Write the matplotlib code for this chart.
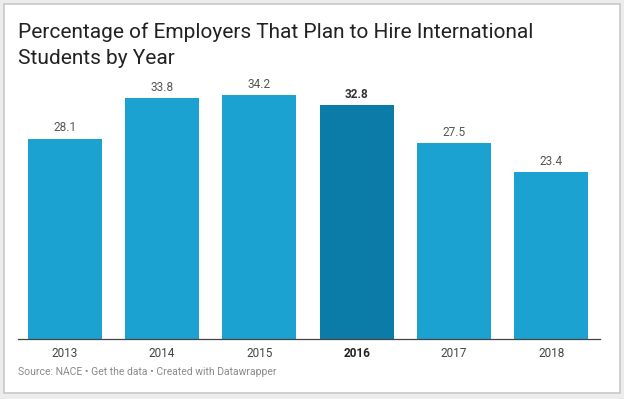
import matplotlib.pyplot as plt
from matplotlib.patches import Rectangle

plt.rcParams['font.family'] = ['Roboto', 'DejaVu Sans']

years = ["2013", "2014", "2015", "2016", "2017", "2018"]
values = [28.1, 33.8, 34.2, 32.8, 27.5, 23.4]
highlight = "2016"

light = "#1ba2d1"
dark = "#0b7ca7"

fig = plt.figure(figsize=(6.24, 3.99), dpi=100)
fig.patch.set_facecolor("#ececec")

# white card with a thin gray border, behind everything
card = Rectangle((4 / 624, 1 - 393 / 399), 616 / 624, 389 / 399,
                 transform=fig.transFigure, facecolor="white",
                 edgecolor="#c8c8c8", linewidth=1.2, zorder=-10)
fig.patches.append(card)

fig.text(18 / 624, 1 - 38 / 399, "Percentage of Employers That Plan to Hire International",
         fontsize=15, color="#222222", va="baseline")
fig.text(18 / 624, 1 - 64 / 399, "Students by Year",
         fontsize=15, color="#222222", va="baseline")

# axes: baseline at y=339, 7.13 px per unit
ax = fig.add_axes([18 / 624, 1 - 339 / 399, 582 / 624, 249 / 399])
ax.set_facecolor("none")
colors = [dark if y == highlight else light for y in years]
x = range(len(years))
bars = ax.bar(x, values, width=0.76, color=colors, zorder=2)
ax.set_xlim(-0.48, 5.5)
ax.set_ylim(0, 249 / 7.13)

for xi, v, y in zip(x, values, years):
    bold = y == highlight
    ax.text(xi, v + 0.6, f"{v}", ha="center", va="bottom", fontsize=8.5,
            color="#333333" if bold else "#555555",
            fontweight="bold" if bold else "normal", clip_on=False)

for s in ["top", "right", "left"]:
    ax.spines[s].set_visible(False)
ax.spines["bottom"].set_color("#444444")
ax.spines["bottom"].set_linewidth(0.9)
ax.set_yticks([])
ax.set_xticks(list(x))
ax.set_xticklabels(years, fontsize=8.5, color="#444444")
for lbl in ax.get_xticklabels():
    if lbl.get_text() == highlight:
        lbl.set_fontweight("bold")
        lbl.set_color("#222222")
ax.tick_params(axis="x", length=0, pad=6)

fig.text(18 / 624, 1 - 375 / 399,
         "Source: NACE \u2022 Get the data \u2022 Created with Datawrapper",
         fontsize=7.5, color="#8a8a8a", va="baseline")

fig.savefig("out.png", dpi=100, facecolor=fig.get_facecolor())
